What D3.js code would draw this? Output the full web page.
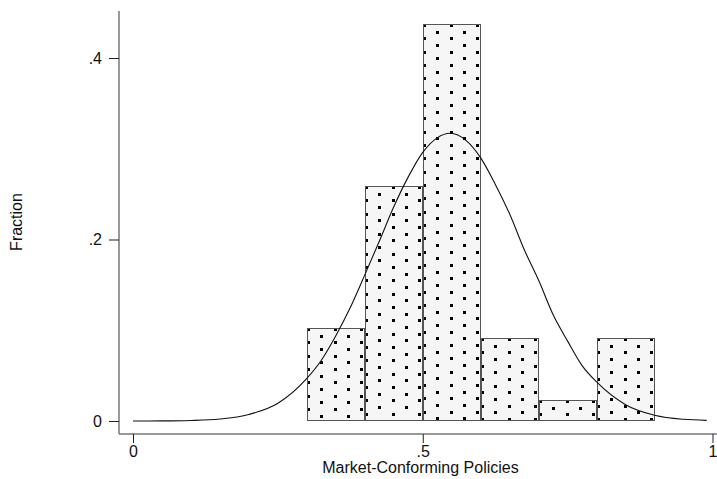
<!DOCTYPE html>
<html>
<head>
<meta charset="utf-8">
<script src="https://cdn.jsdelivr.net/npm/d3@7/dist/d3.min.js"></script>
<style>
  html, body { margin: 0; padding: 0; background: #fff; }
  svg { display: block; }
  text { font-family: "Liberation Sans", Arial, sans-serif; fill: #111; }
</style>
</head>
<body>
<svg id="chart" width="717" height="479"></svg>
<script>
// ---- data ----
const binStarts = [0.3, 0.4, 0.5, 0.6, 0.7, 0.8];
const binWidth = 0.1;
const fractions = [0.102, 0.259, 0.438, 0.091, 0.023, 0.091];

const curveX = [0, 0.05, 0.10, 0.15, 0.20, 0.25, 0.30, 0.325, 0.35, 0.375, 0.40, 0.425, 0.45, 0.475, 0.50, 0.525, 0.547,
                0.575, 0.60, 0.625, 0.65, 0.675, 0.70, 0.725, 0.75, 0.775, 0.80, 0.85, 0.90, 0.95, 0.99];
const curveY = [0.0000, 0.0001, 0.0006, 0.0022, 0.0072, 0.0196, 0.047, 0.067, 0.094, 0.125, 0.161, 0.198, 0.236, 0.269, 0.296, 0.312, 0.317,
                0.309, 0.290, 0.261, 0.228, 0.189, 0.155, 0.117, 0.088, 0.061, 0.043, 0.018, 0.0064, 0.0019, 0.0007];

const xTicks = [0, 0.5, 1];
const xTickLabels = ["0", ".5", "1"];
const yTicks = [0, 0.2, 0.4];
const yTickLabels = ["0", ".2", ".4"];
const xTitle = "Market-Conforming Policies";
const yTitle = "Fraction";

// ---- layout ----
const svg = d3.select("#chart");
const x = d3.scaleLinear().domain([0, 1]).range([133, 712.5]);
const y = d3.scaleLinear().domain([0, 0.4]).range([421, 58]);
const axisX = 119, axisY = 434, axisTop = 11, axisRight = 717;
const FONT = 16;

const bars = binStarts.map((b, i) => {
  const x0 = Math.round(x(b)) + 0.5, x1 = Math.round(x(b + binWidth)) - 0.5;
  const top = Math.round(y(fractions[i])) + 0.5, bottom = Math.round(y(0)) - 0.5;
  return { i, x0, x1, top, bottom };
});

// bars (light fill)
const gBars = svg.append("g");
gBars.selectAll("rect.bar").data(bars).join("rect").attr("class", "bar")
  .attr("x", d => d.x0).attr("y", d => d.top)
  .attr("width", d => d.x1 - d.x0).attr("height", d => d.bottom - d.top)
  .attr("fill", "#f6f6f6")
  .attr("shape-rendering", "crispEdges");

// dot texture inside each bar (staggered lattice anchored at the bar's top-left)
bars.forEach(d => {
  const dots = [];
  const left = d.x0 - 0.5, top = d.top - 0.5, right = d.x1 + 0.5, bottom = d.bottom + 0.5;
  for (let r = 0; top + r * 6.667 <= bottom - 2; r++) {
    const yy = Math.round(top + r * 6.667);
    const off = (r % 2) ? 13.333 : 0;
    for (let c = 0; left + off + c * 26.667 <= right - 1; c++) {
      dots.push([Math.round(left + off + c * 26.667), yy]);
    }
  }
  gBars.append("g").selectAll("rect").data(dots).join("rect")
    .attr("x", p => Math.min(p[0], right - 3)).attr("y", p => Math.min(p[1], bottom - 3))
    .attr("width", 3).attr("height", 3).attr("fill", "#000")
    .attr("shape-rendering", "crispEdges");
});

// bar outlines
gBars.selectAll("rect.outline").data(bars).join("rect").attr("class", "outline")
  .attr("x", d => d.x0).attr("y", d => d.top)
  .attr("width", d => d.x1 - d.x0).attr("height", d => d.bottom - d.top)
  .attr("fill", "none").attr("stroke", "#555").attr("stroke-width", 1)
  .attr("shape-rendering", "crispEdges");

// curve
const pts = curveX.map((v, i) => [v, curveY[i]]);
svg.append("path").datum(pts)
  .attr("fill", "none").attr("stroke", "#111").attr("stroke-width", 1.1)
  .attr("d", d3.line().x(d => x(d[0])).y(d => y(d[1])).curve(d3.curveMonotoneX));

// axes lines
svg.append("line").attr("x1", axisX).attr("x2", axisX).attr("y1", axisTop).attr("y2", axisY)
  .attr("stroke", "#777").attr("stroke-width", 1.5);
svg.append("line").attr("x1", axisX).attr("x2", axisRight).attr("y1", axisY).attr("y2", axisY)
  .attr("stroke", "#777").attr("stroke-width", 1.5);

// y axis ticks
const yAxis = d3.axisLeft(y).tickValues(yTicks)
  .tickFormat((d, i) => yTickLabels[i]).tickSize(10).tickPadding(7);
const gy = svg.append("g").attr("transform", `translate(${axisX},0)`).call(yAxis);
gy.select(".domain").remove();
gy.selectAll(".tick line").attr("stroke", "#222");
gy.selectAll(".tick text").attr("font-size", FONT).attr("font-family", "Liberation Sans, Arial, sans-serif").attr("fill", "#111");

// x axis ticks
const xAxis = d3.axisBottom(x).tickValues(xTicks)
  .tickFormat((d, i) => xTickLabels[i]).tickSize(9).tickPadding(3);
const gx = svg.append("g").attr("transform", `translate(0,${axisY})`).call(xAxis);
gx.select(".domain").remove();
gx.selectAll(".tick line").attr("stroke", "#222");
gx.selectAll(".tick text").attr("font-size", FONT).attr("font-family", "Liberation Sans, Arial, sans-serif").attr("fill", "#111");

// titles
svg.append("text").attr("x", 420.5).attr("y", 473).attr("text-anchor", "middle")
  .attr("font-size", FONT).text(xTitle);
svg.append("text").attr("transform", "translate(22,222) rotate(-90)").attr("text-anchor", "middle")
  .attr("font-size", FONT).text(yTitle);
</script>
</body>
</html>
